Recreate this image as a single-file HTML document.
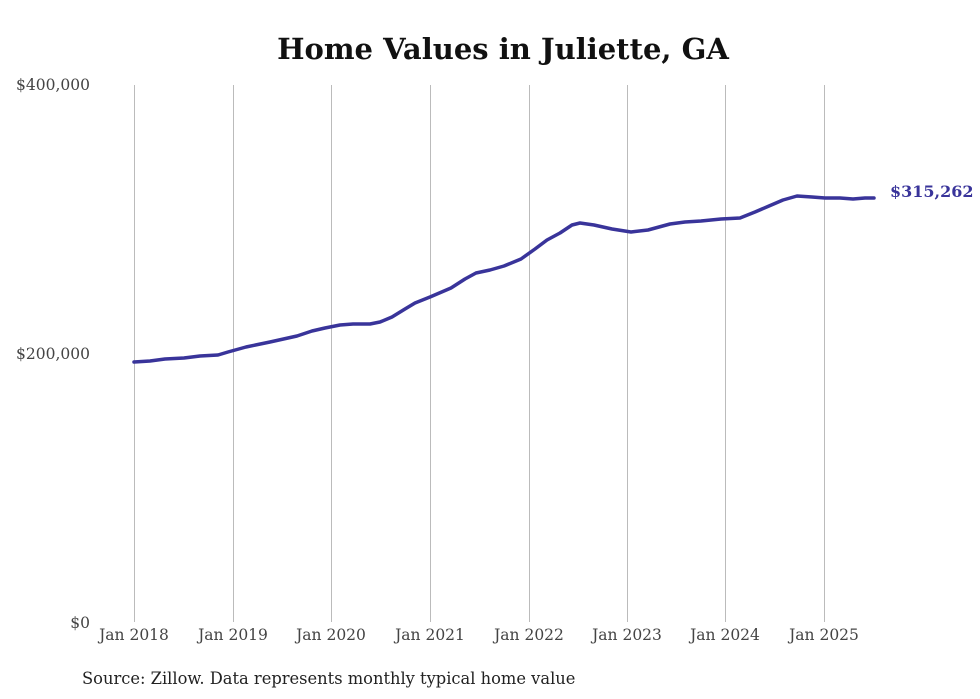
<!DOCTYPE html>
<html><head><meta charset="utf-8"><style>
body{margin:0;background:#fff;}
svg{display:block;font-family:"DejaVu Serif","Liberation Serif",serif;}
</style></head><body>
<svg width="980" height="699" viewBox="0 0 980 699">
<text x="503" y="59" text-anchor="middle" font-size="29" font-weight="bold" fill="#111">Home Values in Juliette, GA</text>
<g stroke="#bbb" stroke-width="1">
<line x1="134.5" y1="85" x2="134.5" y2="622"/>
<line x1="233.5" y1="85" x2="233.5" y2="622"/>
<line x1="331.5" y1="85" x2="331.5" y2="622"/>
<line x1="430.5" y1="85" x2="430.5" y2="622"/>
<line x1="529.5" y1="85" x2="529.5" y2="622"/>
<line x1="627.5" y1="85" x2="627.5" y2="622"/>
<line x1="725.5" y1="85" x2="725.5" y2="622"/>
<line x1="824.5" y1="85" x2="824.5" y2="622"/>
</g>
<g font-size="15.5" fill="#444" text-anchor="end">
<text x="90" y="90">$400,000</text>
<text x="90" y="359">$200,000</text>
<text x="90" y="628">$0</text>
</g>
<g font-size="15.5" fill="#444" text-anchor="middle">
<text x="134" y="640">Jan 2018</text>
<text x="233" y="640">Jan 2019</text>
<text x="331" y="640">Jan 2020</text>
<text x="430" y="640">Jan 2021</text>
<text x="529" y="640">Jan 2022</text>
<text x="627" y="640">Jan 2023</text>
<text x="725" y="640">Jan 2024</text>
<text x="824" y="640">Jan 2025</text>
</g>
<path fill="none" stroke="#39349a" stroke-width="3.5" stroke-linejoin="round" stroke-linecap="round"
d="M134,362 L150,361 L165,359 L184,358 L200,356 L218,355 L228,352 L246,347 L270,342 L297,336 L312,331 L325,328 L340,325 L353,324 L370,324 L380,322 L392,317 L405,309 L415,303 L430,297 L451,288 L465,279 L476,273 L490,270 L504,266 L521,259 L535,249 L547,240 L560,233 L572,225 L580,223 L594,225 L612,229 L631,232 L648,230 L670,224 L685,222 L701,221 L721,219 L740,218 L755,212 L769,206 L783,200 L797,196 L812,197 L825,198 L840,198 L853,199 L865,198 L874,198"/>
<text x="890" y="197" font-size="16" font-weight="bold" fill="#39349a">$315,262</text>
<text x="82" y="684" font-size="16.3" fill="#222">Source: Zillow. Data represents monthly typical home value</text>
</svg>
</body></html>
